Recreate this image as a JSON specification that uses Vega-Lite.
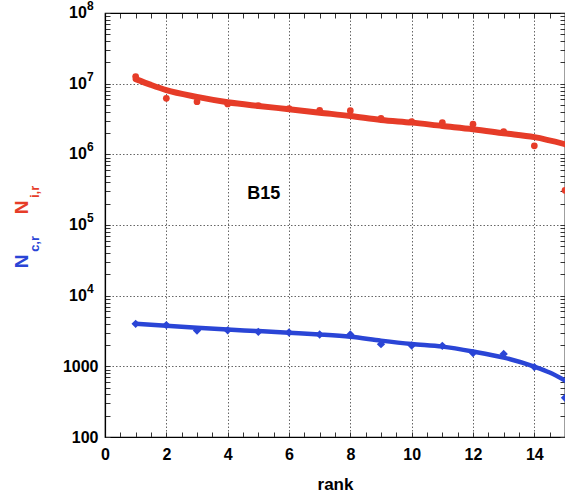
{
  "$schema": "https://vega.github.io/schema/vega-lite/v6.json",
  "width": 460,
  "height": 424,
  "autosize": {"type": "none"},
  "padding": {"left": 105, "top": 13, "right": 0, "bottom": 65},
  "background": "white",
  "config": {
    "font": "Liberation Sans",
    "view": {"stroke": "black", "strokeWidth": 1.2},
    "axis": {
      "domainColor": "black",
      "domainWidth": 1.2,
      "tickColor": "#333",
      "tickWidth": 1,
      "labelFont": "Liberation Sans",
      "labelFontWeight": "bold",
      "labelFontSize": 16,
      "labelColor": "black",
      "gridColor": "#666",
      "gridDash": [1.5, 2],
      "gridWidth": 1
    }
  },
  "datasets": {
    "points": [
      {"rank": 1, "N": 12600000, "series": "Ni"},
      {"rank": 2, "N": 6200000, "series": "Ni"},
      {"rank": 3, "N": 5570000, "series": "Ni"},
      {"rank": 4, "N": 5160000, "series": "Ni"},
      {"rank": 5, "N": 4890000, "series": "Ni"},
      {"rank": 6, "N": 4430000, "series": "Ni"},
      {"rank": 7, "N": 4200000, "series": "Ni"},
      {"rank": 8, "N": 4150000, "series": "Ni"},
      {"rank": 9, "N": 3240000, "series": "Ni"},
      {"rank": 10, "N": 2900000, "series": "Ni"},
      {"rank": 11, "N": 2810000, "series": "Ni"},
      {"rank": 12, "N": 2670000, "series": "Ni"},
      {"rank": 13, "N": 2090000, "series": "Ni"},
      {"rank": 14, "N": 1320000, "series": "Ni"},
      {"rank": 15, "N": 310000, "series": "Ni"},
      {"rank": 1, "N": 3990, "series": "Nc"},
      {"rank": 2, "N": 3830, "series": "Nc"},
      {"rank": 3, "N": 3220, "series": "Nc"},
      {"rank": 4, "N": 3230, "series": "Nc"},
      {"rank": 5, "N": 3080, "series": "Nc"},
      {"rank": 6, "N": 3010, "series": "Nc"},
      {"rank": 7, "N": 2820, "series": "Nc"},
      {"rank": 8, "N": 2820, "series": "Nc"},
      {"rank": 9, "N": 2060, "series": "Nc"},
      {"rank": 10, "N": 1970, "series": "Nc"},
      {"rank": 11, "N": 1950, "series": "Nc"},
      {"rank": 12, "N": 1540, "series": "Nc"},
      {"rank": 13, "N": 1500, "series": "Nc"},
      {"rank": 14, "N": 975, "series": "Nc"},
      {"rank": 15, "N": 358, "series": "Nc"}
    ],
    "fit": [
      {"rank": 1, "N": 11600000, "series": "Ni"},
      {"rank": 1.5, "N": 9600000, "series": "Ni"},
      {"rank": 2, "N": 8100000, "series": "Ni"},
      {"rank": 3, "N": 6500000, "series": "Ni"},
      {"rank": 4, "N": 5460000, "series": "Ni"},
      {"rank": 5, "N": 4840000, "series": "Ni"},
      {"rank": 6, "N": 4350000, "series": "Ni"},
      {"rank": 7, "N": 3890000, "series": "Ni"},
      {"rank": 8, "N": 3490000, "series": "Ni"},
      {"rank": 9, "N": 3070000, "series": "Ni"},
      {"rank": 10, "N": 2810000, "series": "Ni"},
      {"rank": 11, "N": 2520000, "series": "Ni"},
      {"rank": 12, "N": 2270000, "series": "Ni"},
      {"rank": 13, "N": 1990000, "series": "Ni"},
      {"rank": 14, "N": 1750000, "series": "Ni"},
      {"rank": 15, "N": 1390000, "series": "Ni"},
      {"rank": 1, "N": 3990, "series": "Nc"},
      {"rank": 2, "N": 3740, "series": "Nc"},
      {"rank": 3, "N": 3510, "series": "Nc"},
      {"rank": 4, "N": 3310, "series": "Nc"},
      {"rank": 5, "N": 3150, "series": "Nc"},
      {"rank": 6, "N": 2980, "series": "Nc"},
      {"rank": 7, "N": 2820, "series": "Nc"},
      {"rank": 8, "N": 2620, "series": "Nc"},
      {"rank": 9, "N": 2310, "series": "Nc"},
      {"rank": 10, "N": 2070, "series": "Nc"},
      {"rank": 11, "N": 1900, "series": "Nc"},
      {"rank": 12, "N": 1620, "series": "Nc"},
      {"rank": 13, "N": 1330, "series": "Nc"},
      {"rank": 14, "N": 990, "series": "Nc"},
      {"rank": 14.5, "N": 817, "series": "Nc"},
      {"rank": 15, "N": 630, "series": "Nc"}
    ],
    "annot": [
      {"rank": 5.18, "N": 275000, "text": "B15"}
    ],
    "ylab": [
      {"rank": -0.59, "N": 10000, "base": "10", "exp": "4"},
      {"rank": -0.59, "N": 100000, "base": "10", "exp": "5"},
      {"rank": -0.59, "N": 1000000, "base": "10", "exp": "6"},
      {"rank": -0.59, "N": 10000000, "base": "10", "exp": "7"},
      {"rank": -0.59, "N": 100000000, "base": "10", "exp": "8"}
    ],
    "ytitleBig": [
      {"rank": -2.72, "N": 177000, "text": "N", "series": "Ni"},
      {"rank": -2.72, "N": 30500, "text": "N", "series": "Nc"}
    ],
    "ytitleSub": [
      {"rank": -2.28, "N": 294000, "text": "i,r", "series": "Ni"},
      {"rank": -2.28, "N": 54000, "text": "c,r", "series": "Nc"}
    ]
  },
  "resolve": {"axis": {"x": "independent", "y": "independent"}},
  "layer": [
    {
      "data": {"name": "fit"},
      "transform": [{"filter": "datum.series == 'Ni'"}],
      "mark": {"type": "line", "interpolate": "monotone", "strokeWidth": 6, "color": "#E63C28", "strokeCap": "round"},
      "encoding": {
        "x": {
          "field": "rank", "type": "quantitative",
          "scale": {"domain": [0, 15], "nice": false, "zero": false},
          "axis": {
            "orient": "bottom",
            "title": "rank",
            "titleFont": "Liberation Sans",
            "titleFontSize": 17,
            "titleFontWeight": "bold",
            "titleColor": "black",
            "titlePadding": 14,
            "values": [0,0.5,1,1.5,2,2.5,3,3.5,4,4.5,5,5.5,6,6.5,7,7.5,8,8.5,9,9.5,10,10.5,11,11.5,12,12.5,13,13.5,14,14.5,15],
            "labelExpr": "datum.value % 2 == 0 ? format(datum.value, 'd') : ''",
            "labelFlush": false,
            "tickSize": -5,
            "labelPadding": 14,
            "grid": true,
            "gridOpacity": {"condition": {"test": "datum.value % 2 == 0 && datum.value > 0 && datum.value < 15", "value": 1}, "value": 0}
          }
        },
        "y": {
          "field": "N", "type": "quantitative",
          "scale": {"type": "log", "domain": [100, 100000000], "nice": false},
          "axis": {
            "orient": "left",
            "title": null,
            "values": [100,200,300,400,500,600,700,800,900,1000,2000,3000,4000,5000,6000,7000,8000,9000,10000,20000,30000,40000,50000,60000,70000,80000,90000,100000,200000,300000,400000,500000,600000,700000,800000,900000,1000000,2000000,3000000,4000000,5000000,6000000,7000000,8000000,9000000,10000000,20000000,30000000,40000000,50000000,60000000,70000000,80000000,90000000,100000000],
            "labelExpr": "datum.value == 100 ? '100' : datum.value == 1000 ? '1000' : ''",
            "tickSize": -5,
            "labelPadding": 12,
            "labelBound": false,
            "labelOverlap": false,
            "grid": true,
            "gridOpacity": {"condition": {"test": "(datum.value == 1000 || datum.value == 10000 || datum.value == 100000 || datum.value == 1000000 || datum.value == 10000000)", "value": 1}, "value": 0}
          }
        }
      }
    },
    {
      "data": {"name": "fit"},
      "transform": [{"filter": "datum.series == 'Nc'"}],
      "mark": {"type": "line", "interpolate": "monotone", "strokeWidth": 4.5, "color": "#2A45D6", "strokeCap": "round"},
      "encoding": {
        "x": {"field": "rank", "type": "quantitative", "scale": {"domain": [0, 15], "nice": false, "zero": false}, "axis": null},
        "y": {"field": "N", "type": "quantitative", "scale": {"type": "log", "domain": [100, 100000000], "nice": false}, "axis": null}
      }
    },
    {
      "data": {"name": "points"},
      "transform": [{"filter": "datum.series == 'Ni'"}],
      "mark": {"type": "point", "shape": "circle", "filled": true, "size": 45, "color": "#E63C28", "opacity": 1},
      "encoding": {
        "x": {"field": "rank", "type": "quantitative", "scale": {"domain": [0, 15], "nice": false, "zero": false}, "axis": null},
        "y": {"field": "N", "type": "quantitative", "scale": {"type": "log", "domain": [100, 100000000], "nice": false}, "axis": null}
      }
    },
    {
      "data": {"name": "points"},
      "transform": [{"filter": "datum.series == 'Nc'"}],
      "mark": {"type": "point", "shape": "diamond", "filled": true, "size": 70, "color": "#2A45D6", "opacity": 1},
      "encoding": {
        "x": {"field": "rank", "type": "quantitative", "scale": {"domain": [0, 15], "nice": false, "zero": false}, "axis": null},
        "y": {"field": "N", "type": "quantitative", "scale": {"type": "log", "domain": [100, 100000000], "nice": false}, "axis": null}
      }
    },
    {
      "data": {"name": "annot"},
      "mark": {"type": "text", "fontSize": 18, "fontWeight": "bold", "font": "Liberation Sans", "align": "center", "baseline": "middle", "color": "black"},
      "encoding": {
        "x": {
          "field": "rank", "type": "quantitative",
          "scale": {"domain": [0, 15], "nice": false, "zero": false},
          "axis": {
            "orient": "top", "title": null, "labels": false, "domain": true, "grid": false,
            "values": [0,0.5,1,1.5,2,2.5,3,3.5,4,4.5,5,5.5,6,6.5,7,7.5,8,8.5,9,9.5,10,10.5,11,11.5,12,12.5,13,13.5,14,14.5,15],
            "tickSize": -5
          }
        },
        "y": {
          "field": "N", "type": "quantitative",
          "scale": {"type": "log", "domain": [100, 100000000], "nice": false},
          "axis": {
            "orient": "right", "title": null, "labels": false, "domain": true, "grid": false,
            "values": [100,200,300,400,500,600,700,800,900,1000,2000,3000,4000,5000,6000,7000,8000,9000,10000,20000,30000,40000,50000,60000,70000,80000,90000,100000,200000,300000,400000,500000,600000,700000,800000,900000,1000000,2000000,3000000,4000000,5000000,6000000,7000000,8000000,9000000,10000000,20000000,30000000,40000000,50000000,60000000,70000000,80000000,90000000,100000000],
            "tickSize": -5
          }
        },
        "text": {"field": "text"}
      }
    },
    {
      "data": {"name": "ylab"},
      "mark": {"type": "text", "fontSize": 16, "fontWeight": "bold", "font": "Liberation Sans", "align": "right", "baseline": "middle", "color": "black"},
      "encoding": {
        "x": {"field": "rank", "type": "quantitative", "scale": {"domain": [0, 15], "nice": false, "zero": false}, "axis": null},
        "y": {"field": "N", "type": "quantitative", "scale": {"type": "log", "domain": [100, 100000000], "nice": false}, "axis": null},
        "text": {"field": "base"}
      }
    },
    {
      "data": {"name": "ylab"},
      "mark": {"type": "text", "fontSize": 12, "fontWeight": "bold", "font": "Liberation Sans", "align": "left", "baseline": "middle", "dy": -7, "dx": 0, "color": "black"},
      "encoding": {
        "x": {"field": "rank", "type": "quantitative", "scale": {"domain": [0, 15], "nice": false, "zero": false}, "axis": null},
        "y": {"field": "N", "type": "quantitative", "scale": {"type": "log", "domain": [100, 100000000], "nice": false}, "axis": null},
        "text": {"field": "exp"}
      }
    },
    {
      "data": {"name": "ytitleBig"},
      "mark": {"type": "text", "fontSize": 19, "fontWeight": "bold", "font": "Liberation Sans", "align": "center", "baseline": "middle", "angle": 270},
      "encoding": {
        "x": {"field": "rank", "type": "quantitative", "scale": {"domain": [0, 15], "nice": false, "zero": false}, "axis": null},
        "y": {"field": "N", "type": "quantitative", "scale": {"type": "log", "domain": [100, 100000000], "nice": false}, "axis": null},
        "text": {"field": "text"},
        "color": {"field": "series", "type": "nominal", "scale": {"domain": ["Ni", "Nc"], "range": ["#E63C28", "#2A45D6"]}, "legend": null}
      }
    },
    {
      "data": {"name": "ytitleSub"},
      "mark": {"type": "text", "fontSize": 13, "fontWeight": "bold", "font": "Liberation Sans", "align": "center", "baseline": "middle", "angle": 270},
      "encoding": {
        "x": {"field": "rank", "type": "quantitative", "scale": {"domain": [0, 15], "nice": false, "zero": false}, "axis": null},
        "y": {"field": "N", "type": "quantitative", "scale": {"type": "log", "domain": [100, 100000000], "nice": false}, "axis": null},
        "text": {"field": "text"},
        "color": {"field": "series", "type": "nominal", "scale": {"domain": ["Ni", "Nc"], "range": ["#E63C28", "#2A45D6"]}, "legend": null}
      }
    }
  ]
}
